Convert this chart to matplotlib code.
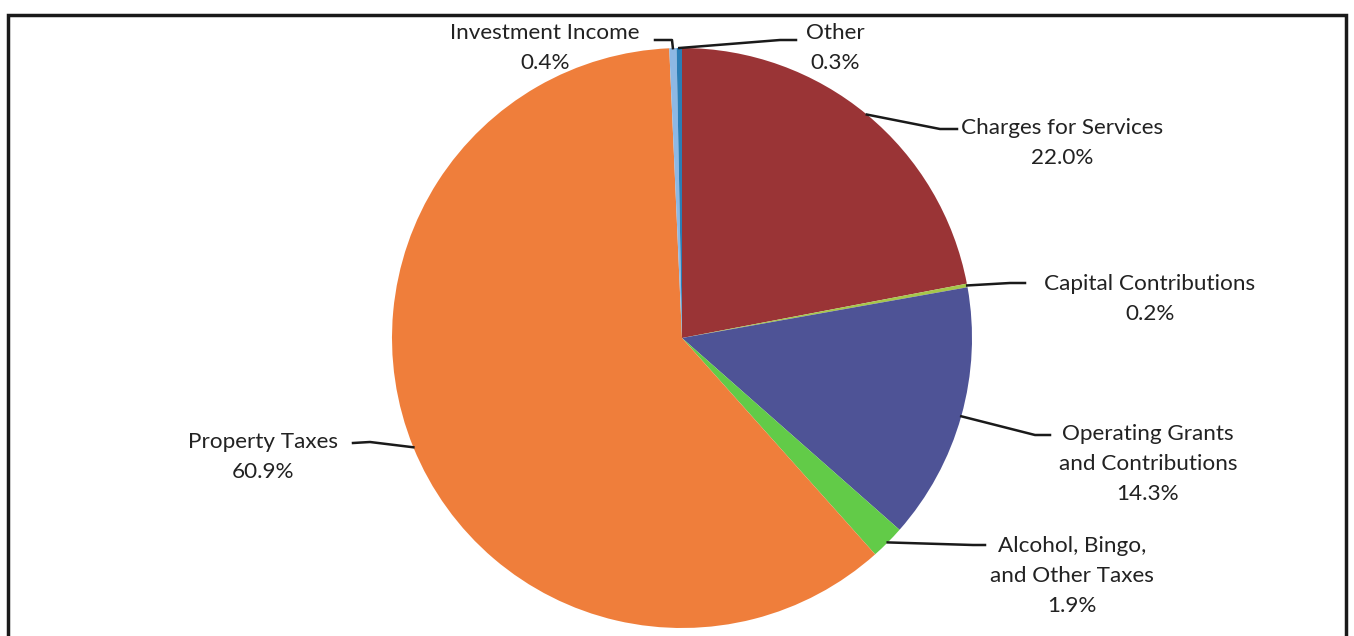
import matplotlib.pyplot as plt
from matplotlib.patches import Rectangle
import numpy as np

# Revenue shares (%), clockwise from 12 o'clock
categories = ["Charges for Services", "Capital Contributions",
              "Operating Grants\nand Contributions", "Alcohol, Bingo,\nand Other Taxes",
              "Property Taxes", "Investment Income", "Other"]
shares = [22.0, 0.2, 14.3, 1.9, 60.9, 0.4, 0.3]
colors = ["#9A3436", "#A6C74A", "#4E5396", "#62CB48", "#EF7E3B", "#8DB8E4", "#2A7DB5"]

plt.rcParams['font.family'] = ['Lato', 'DejaVu Sans']

W, H = 1354, 636
fig = plt.figure(figsize=(W / 100, H / 100), dpi=100)

# pie centre / radius in pixels
cx, cy, R = 682, 338, 290
ax = fig.add_axes([(cx - R) / W, (H - cy - R) / H, 2 * R / W, 2 * R / H])
wedges, _ = ax.pie(shares, colors=colors, startangle=90, counterclock=False,
                   radius=1, wedgeprops=dict(linewidth=0))
ax.set_xlim(-1, 1)
ax.set_ylim(-1, 1)
ax.set_aspect('equal')
ax.axis('off')


def to_data(px, py):
    return (px - cx) / R, (cy - py) / R


# label layout: (text centre px, elbow px, stub end px)
layout = [
    ((1062, 143), (940, 129), (957, 129)),
    ((1150, 299), (1010, 283), (1025, 283)),
    ((1148, 464), (1035, 435), (1050, 435)),
    ((1072, 576), (973, 545), (985, 545)),
    ((263, 457), (370, 442), (353, 443)),
    ((545, 48), (672, 40), (655, 40)),
    ((835, 48), (780, 40), (796, 40)),
]

for w, name, val, (tpos, elbow, stub) in zip(wedges, categories, shares, layout):
    mid = np.deg2rad((w.theta1 + w.theta2) / 2)
    ex, ey = np.cos(mid), np.sin(mid)
    bx, by = to_data(*elbow)
    sx, sy = to_data(*stub)
    ax.plot([ex, bx, sx], [ey, by, sy], color="#1a1a1a", lw=1.8, clip_on=False)
    tx, ty = to_data(*tpos)
    ax.text(tx, ty, f"{name}\n{val:.1f}%", ha='center', va='center',
            fontsize=16.2, color="#222222", linespacing=1.65)

# outer frame
fig.patches.append(Rectangle((8 / W, -0.05), (1346 - 8) / W, 1.05 - 15 / H,
                             transform=fig.transFigure, fill=False,
                             edgecolor="#1a1a1a", lw=2.5))

fig.savefig("out.png", dpi=100, facecolor="white")
